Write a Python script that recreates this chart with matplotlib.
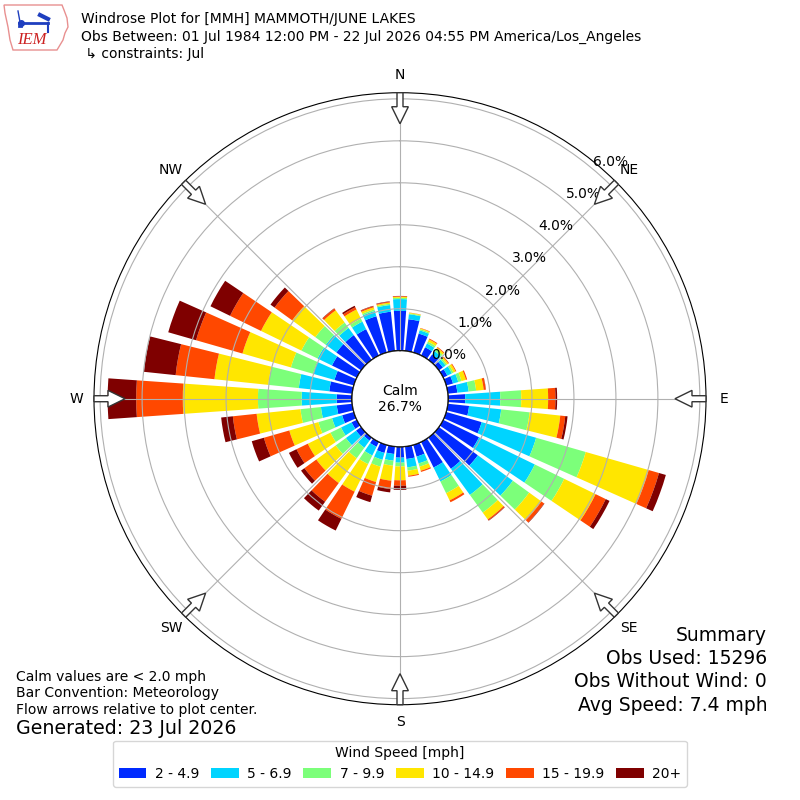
import numpy as np
import matplotlib.pyplot as plt
from matplotlib.patches import Circle, FancyArrow, Polygon

# wind directions (deg, meteorological) and frequency (%) per speed bin
directions = np.arange(0, 360, 10)
speed_labels = ['2 - 4.9', '5 - 6.9', '7 - 9.9', '10 - 14.9', '15 - 19.9', '20+']
colors = ['#002aff', '#00d4ff', '#7cff7a', '#ffe600', '#ff4800', '#7f0000']

spd_2_5 = [0.95, 0.76, 0.47, 0.22, 0.16, 0.12, 0.11, 0.17, 0.23, 0.41, 0.51, 0.88,
           0.95, 1.15, 0.92, 0.68, 0.29, 0.30, 0.26, 0.18, 0.20, 0.13, 0.09, 0.15,
           0.14, 0.29, 0.37, 0.365, 0.55, 0.48, 0.66, 0.73, 0.73, 0.70, 0.90, 0.94]
spd_5_7 = [0.28, 0.12, 0.08, 0.10, 0.10, 0.08, 0.12, 0.13, 0.27, 0.835, 0.77, 1.35,
           1.48, 1.03, 0.77, 0.37, 0.17, 0.20, 0.12, 0.16, 0.17, 0.23, 0.21, 0.30,
           0.28, 0.25, 0.38, 0.835, 0.73, 0.53, 0.38, 0.31, 0.21, 0.20, 0.13, 0.16]
spd_7_10 = [0.03, 0.02, 0.03, 0.05, 0.05, 0.04, 0.045, 0.08, 0.18, 0.50, 0.68, 1.23,
            0.78, 0.48, 0.52, 0.31, 0.08, 0.08, 0.09, 0.12, 0.17, 0.23, 0.31, 0.30,
            0.28, 0.34, 0.49, 1.04, 0.73, 0.55, 0.43, 0.31, 0.16, 0.08, 0.04, 0.03]
spd_10_15 = [0.025, 0.015, 0.02, 0.06, 0.05, 0.04, 0.055, 0.11, 0.18, 0.64, 0.735, 1.56,
             0.83, 0.36, 0.20, 0.19, 0.10, 0.12, 0.33, 0.36, 0.38, 0.73, 0.73, 0.57,
             0.60, 0.72, 1.05, 1.79, 1.29, 1.20, 1.07, 0.68, 0.36, 0.24, 0.05, 0.03]
spd_15_20 = [0.015, 0.005, 0.01, 0.02, 0.02, 0.02, 0.02, 0.03, 0.05, 0.175, 0.12, 0.255,
             0.27, 0.08, 0.03, 0.05, 0.03, 0.025, 0.13, 0.20, 0.34, 0.72, 0.55, 0.35,
             0.30, 0.63, 0.57, 1.11, 0.93, 1.15, 0.82, 0.52, 0.05, 0.06, 0.03, 0.02]
spd_20p = [0.005, 0.0, 0.0, 0.0, 0.0, 0.0, 0.0, 0.0, 0.005, 0.04, 0.055, 0.17,
           0.10, 0.01, 0.01, 0.0, 0.0, 0.0, 0.10, 0.08, 0.16, 0.31, 0.26, 0.10,
           0.20, 0.30, 0.28, 0.68, 0.76, 0.69, 0.52, 0.12, 0.01, 0.04, 0.01, 0.01]
series = [spd_2_5, spd_5_7, spd_7_10, spd_10_15, spd_15_20, spd_20p]

calm_pct = 26.7
rticks = np.arange(0, 7)

fig = plt.figure(figsize=(8, 8), dpi=100)
ax = fig.add_axes([0.1175, 0.1191, 0.765, 0.765], projection='polar')
ax.set_theta_zero_location('N')
ax.set_theta_direction(-1)
ax.set_ylim(0, 6.146)
ax.set_rorigin(-1.144)

theta = np.deg2rad(directions)
bottom = np.zeros(len(directions))
handles = []
for vals, c, lab in zip(series, colors, speed_labels):
    vals = np.array(vals)
    b = ax.bar(theta, vals, width=np.deg2rad(8), bottom=bottom, color=c,
               linewidth=0, label=lab)
    handles.append(b)
    bottom += vals

ax.set_rgrids(rticks, labels=['%.1f%%' % v for v in rticks], angle=40, fontsize=10)
ax.set_thetagrids(np.arange(0, 360, 45), labels=[''] * 8)
ax.grid(True, color='#b0b0b0', lw=0.8)

# calm circle in the middle
ax.add_patch(Circle((0.5, 0.5), 48 / 612., transform=ax.transAxes, fc='white',
                    ec='black', lw=1, zorder=3))
ax.text(0.5, 0.5, 'Calm\n%.1f%%' % calm_pct, transform=ax.transAxes, ha='center',
        va='center', fontsize=10, zorder=4)

# direction arrows + labels
for a, name in zip(range(0, 360, 45), ['N', 'NE', 'E', 'SE', 'S', 'SW', 'W', 'NW']):
    s, c = np.sin(np.deg2rad(a)), np.cos(np.deg2rad(a))
    ax.add_patch(FancyArrow(0.5 + 0.5 * s, 0.5 + 0.5 * c, -0.0507 * s, -0.0507 * c,
                            width=0.0098, head_width=0.0273, head_length=0.0278,
                            length_includes_head=True, fc='white', ec='#333333', lw=1,
                            transform=ax.transAxes, clip_on=False, zorder=5))
    ax.text(0.5 + 0.529 * s, 0.5 + 0.529 * c, name, transform=ax.transAxes,
            ha='center', va='center', fontsize=10)

# header
fig.text(0.101, 0.976, 'Windrose Plot for [MMH] MAMMOTH/JUNE LAKES', fontsize=10, va='center')
fig.text(0.101, 0.954, 'Obs Between: 01 Jul 1984 12:00 PM - 22 Jul 2026 04:55 PM America/Los_Angeles',
         fontsize=10, va='center')
fig.text(0.101, 0.9325, ' \u21b3 constraints: Jul', fontsize=10, va='center')

# logo
lax = fig.add_axes([0, 1 - 55 / 800., 70 / 800., 55 / 800.])
lax.set_xlim(0, 70)
lax.set_ylim(55, 0)
lax.axis('off')
iowa = [(4, 5), (62, 5), (64, 10), (67, 18), (68, 27), (65, 33), (63, 40), (60, 45),
        (57, 50), (13, 50), (10, 40), (8, 27), (5, 13)]
lax.add_patch(Polygon(iowa, closed=True, fc='white', ec='#e89090', lw=1))
lax.plot([19, 48], [23, 23], color='#1f3fbf', lw=2)
lax.plot([21], [23], 'o', color='#1f3fbf', ms=4)
lax.plot([18, 20], [11, 22], color='#1f3fbf', lw=1)
lax.plot([40, 48], [15, 19], color='#1f3fbf', lw=3)
lax.plot([48, 48], [23, 32], color='#1f3fbf', lw=1.5)
lax.plot([19, 21], [26, 26], color='#1f3fbf', lw=2)
lax.text(32, 40, 'IEM', color='#cc2222', fontsize=12, family='Liberation Serif',
         style='italic', ha='center', va='center')

# footer text
fig.text(0.02, 0.154, 'Calm values are < 2.0 mph', fontsize=10, va='center')
fig.text(0.02, 0.134, 'Bar Convention: Meteorology', fontsize=10, va='center')
fig.text(0.02, 0.1125, 'Flow arrows relative to plot center.', fontsize=10, va='center')
fig.text(0.02, 0.089, 'Generated: 23 Jul 2026', fontsize=13.7, va='center')

summary = ['Summary', 'Obs Used: 15296', 'Obs Without Wind: 0', 'Avg Speed: 7.4 mph']
for i, line in enumerate(summary):
    fig.text(0.959, 0.206 - i * 0.0292, line, fontsize=13.5, ha='right', va='center')

fig.legend(handles, speed_labels, loc='lower center', bbox_to_anchor=(0.5, 0.008),
           ncol=6, title='Wind Speed [mph]', fontsize=10, title_fontsize=10,
           columnspacing=0.85, handletextpad=0.6)

fig.savefig('out.png', dpi=100, facecolor='white')
